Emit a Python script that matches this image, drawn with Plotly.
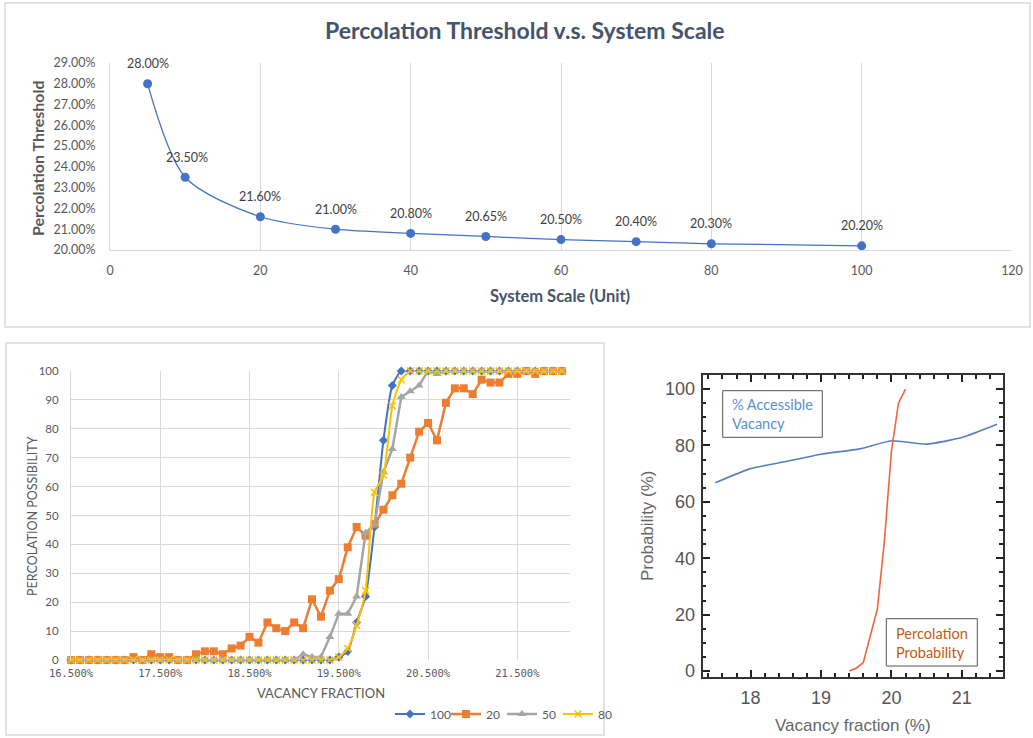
import plotly.graph_objects as go

W, H = 1033, 738


def fx(p):
    return p / W


def fy(p):
    return 1 - p / H


# ---- top: percolation threshold vs system scale ----
system_scale = [5, 10, 20, 30, 40, 50, 60, 70, 80, 100]
threshold_pct = [28.00, 23.50, 21.60, 21.00, 20.80, 20.65, 20.50, 20.40, 20.30, 20.20]

# ---- bottom-left: percolation possibility vs vacancy fraction ----
vacancy_pct = [
    16.5, 16.6, 16.7, 16.8, 16.9, 17.0, 17.1, 17.2, 17.3, 17.4,
    17.5, 17.6, 17.7, 17.8, 17.9, 18.0, 18.1, 18.2, 18.3, 18.4,
    18.5, 18.6, 18.7, 18.8, 18.9, 19.0, 19.1, 19.2, 19.3, 19.4,
    19.5, 19.6, 19.7, 19.8, 19.9, 20.0, 20.1, 20.2, 20.3, 20.4,
    20.5, 20.6, 20.7, 20.8, 20.9, 21.0, 21.1, 21.2, 21.3, 21.4,
    21.5, 21.6, 21.7, 21.8, 21.9, 22.0,
]
poss_100 = [
    0, 0, 0, 0, 0, 0, 0, 0, 0, 0,
    0, 0, 0, 0, 0, 0, 0, 0, 0, 0,
    0, 0, 0, 0, 0, 0, 0, 0, 0, 0,
    1, 3, 13, 22, 46, 76, 95, 100, 100, 100,
    100, 100, 100, 100, 100, 100, 100, 100, 100, 100,
    100, 100, 100, 100, 100, 100,
]
poss_20 = [
    0, 0, 0, 0, 0, 0, 0, 1, 0, 2,
    1, 1, 0, 0, 2, 3, 3, 2, 4, 5,
    8, 6, 13, 11, 10, 13, 11, 21, 15, 24,
    28, 39, 46, 43, 47, 52, 57, 61, 70, 79,
    82, 76, 89, 94, 94, 92, 97, 96, 96, 99,
    99, 100, 99, 100, 100, 100,
]
poss_50 = [
    0, 0, 0, 0, 0, 0, 0, 0, 0, 0,
    0, 0, 0, 0, 0, 0, 0, 0, 0, 0,
    0, 0, 0, 0, 0, 0, 2, 1, 1, 8,
    16, 16, 22, 44, 47, 65, 73, 91, 93, 95,
    100, 99, 100, 100, 100, 100, 100, 100, 100, 100,
    100, 100, 100, 100, 100, 100,
]
poss_80 = [
    0, 0, 0, 0, 0, 0, 0, 0, 0, 0,
    0, 0, 0, 0, 0, 0, 0, 0, 0, 0,
    0, 0, 0, 0, 0, 0, 0, 0, 0, 0,
    1, 4, 12, 24, 58, 64, 88, 97, 100, 100,
    100, 100, 100, 100, 100, 100, 100, 100, 100, 100,
    100, 100, 100, 100, 100, 100,
]

# ---- bottom-right: accessible vacancy and percolation probability ----
access_x = [17.5, 18.0, 18.5, 19.0, 19.55, 20.0, 20.5, 21.0, 21.5]
access_y = [66.8, 71.8, 74.3, 76.9, 78.8, 81.7, 80.5, 82.8, 87.5]
perc_x = [19.4, 19.5, 19.6, 19.7, 19.8, 19.9, 20.0, 20.1, 20.2]
perc_y = [0, 1, 3, 13, 22, 46, 78, 95, 100]

XL_FONT = "Lato, 'Open Sans', sans-serif"
HV_FONT = "'Liberation Sans', Arial, sans-serif"
GREY_TXT = "#595959"
GRID = "#D9D9D9"

fig = go.Figure()

# top chart
fig.add_trace(go.Scatter(
    x=system_scale, y=threshold_pct, mode="lines+markers",
    line=dict(color="#4472C4", width=1.25, shape="spline", smoothing=0.8),
    marker=dict(color="#4472C4", size=9),
    xaxis="x", yaxis="y", showlegend=False, cliponaxis=False,
))

# bottom-left chart
series = [
    ("100", poss_100, "#4472C4", "diamond", 7, "spline", 2.0),
    ("20", poss_20, "#ED7D31", "square", 8, "linear", 2.5),
    ("50", poss_50, "#A5A5A5", "triangle-up", 8, "linear", 2.5),
    ("80", poss_80, "#FFC000", "x-thin-open", 7, "spline", 2.0),
]
for name, vals, col, sym, msize, shape, lw in series:
    marker = dict(color=col, size=msize, symbol=sym)
    if sym == "x-thin-open":
        marker["line"] = dict(color=col, width=1.5)
    fig.add_trace(go.Scatter(
        x=vacancy_pct, y=vals, name=name, mode="lines+markers",
        line=dict(color=col, width=lw, shape=shape, smoothing=0.6),
        marker=marker, xaxis="x2", yaxis="y2", cliponaxis=False,
    ))

# bottom-right chart
fig.add_trace(go.Scatter(
    x=access_x, y=access_y, mode="lines",
    line=dict(color="#5A7FC0", width=1.6, shape="spline", smoothing=0.5),
    xaxis="x3", yaxis="y3", showlegend=False,
))
fig.add_trace(go.Scatter(
    x=perc_x, y=perc_y, mode="lines",
    line=dict(color="#F2643C", width=1.6),
    xaxis="x3", yaxis="y3", showlegend=False,
))

annotations = []

# value labels above each point of the top chart
for xs, ys in zip(system_scale, threshold_pct):
    annotations.append(dict(
        x=xs, y=ys, xref="x", yref="y", text=f"{ys:.2f}%",
        showarrow=False, yshift=20, xshift=2 if xs == 10 else 0,
        xanchor="center", yanchor="middle",
        font=dict(family=XL_FONT, size=12.5, color="#404040"),
    ))


def label(px, py, text, size, color, family=XL_FONT, angle=0, xanchor="center"):
    return dict(x=fx(px), y=fy(py), xref="paper", yref="paper", text=text,
                showarrow=False, textangle=angle, xanchor=xanchor,
                yanchor="middle", align="left",
                font=dict(family=family, size=size, color=color))


# titles, axis titles and boxed notes
annotations += [
    label(525, 30, "<b>Percolation Threshold v.s. System Scale</b>", 23, "#44546A"),
    label(38, 158, "<b>Percolation Threshold</b>", 16, GREY_TXT, angle=-90),
    label(560, 296, "<b>System Scale (Unit)</b>", 16.5, "#44546A"),
    label(32, 516, "PERCOLATION POSSIBILITY", 12.5, GREY_TXT, angle=-90),
    label(321, 693, "VACANCY FRACTION", 13, GREY_TXT),
    label(647, 526, "Probability (%)", 17, "#666666", family=HV_FONT, angle=-90),
    label(853, 725, "Vacancy fraction (%)", 17, "#666666", family=HV_FONT),
    label(730, 414, "% Accessible<br>Vacancy", 14.5, "#5B8FD0", xanchor="left"),
    label(894, 642.5, "Percolation<br>Probability", 14.5, "#C55A11", xanchor="left"),
]

shapes = [
    dict(type="rect", xref="paper", yref="paper",
         x0=fx(5), x1=fx(1030), y0=fy(327), y1=fy(3),
         line=dict(color="#D9D9D9", width=1.5)),
    dict(type="rect", xref="paper", yref="paper",
         x0=fx(6), x1=fx(604), y0=fy(735), y1=fy(343),
         line=dict(color="#D9D9D9", width=1.5)),
    dict(type="rect", xref="paper", yref="paper",
         x0=fx(722.7), x1=fx(822.3), y0=fy(437.3), y1=fy(390.7),
         line=dict(color="#555555", width=1)),
    dict(type="rect", xref="paper", yref="paper",
         x0=fx(886.3), x1=fx(977.3), y0=fy(666), y1=fy(618.7),
         line=dict(color="#555555", width=1)),
]

fig.update_layout(
    width=W, height=H,
    margin=dict(l=0, r=0, t=0, b=0),
    paper_bgcolor="white", plot_bgcolor="white",
    font=dict(family=XL_FONT, color=GREY_TXT),
    annotations=annotations, shapes=shapes,
    xaxis=dict(
        domain=[fx(110), fx(1012)], anchor="y", range=[0, 120], dtick=20,
        showgrid=True, gridcolor=GRID, gridwidth=1, zeroline=False,
        showline=True, linecolor=GRID, linewidth=1, ticks="",
        automargin=False,
        ticklabelstandoff=9, tickfont=dict(family=XL_FONT, size=12.5, color=GREY_TXT),
    ),
    yaxis=dict(
        domain=[fy(250), fy(63)], anchor="x", range=[20, 29], dtick=1,
        tickformat=".2f", ticksuffix="%", showgrid=False, zeroline=False,
        showline=True, linecolor=GRID, linewidth=1, ticks="",
        automargin=False,
        ticklabelstandoff=11, tickfont=dict(family=XL_FONT, size=12.5, color=GREY_TXT),
    ),
    xaxis2=dict(
        domain=[fx(71), fx(570)], anchor="y2", range=[16.5, 22.09],
        tick0=16.5, dtick=1, tickformat=".3f", ticksuffix="%",
        showgrid=True, gridcolor=GRID, gridwidth=1, zeroline=False,
        showline=False, ticks="", ticklabelstandoff=5, automargin=False,
        tickfont=dict(family="'DejaVu Sans Mono', monospace", size=10.5, color=GREY_TXT),
    ),
    yaxis2=dict(
        domain=[fy(660), fy(371)], anchor="x2", range=[0, 100], dtick=10,
        showgrid=True, gridcolor=GRID, gridwidth=1, zeroline=False,
        showline=True, linecolor=GRID, linewidth=1,
        ticks="", ticklabelstandoff=9, automargin=False,
        tickfont=dict(family=XL_FONT, size=11.5, color=GREY_TXT),
    ),
    xaxis3=dict(
        domain=[fx(702.7), fx(1002.7)], anchor="y3", range=[17.32, 21.58],
        tickvals=[18, 19, 20, 21], ticks="inside", ticklen=7, tickwidth=2,
        tickcolor="#222222", mirror="allticks", showline=True,
        linecolor="#333333", linewidth=2, showgrid=False, zeroline=False,
        minor=dict(dtick=0.2, ticks="inside", ticklen=3.5, tickwidth=1.5,
                   tickcolor="#222222", showgrid=False),
        ticklabelstandoff=4, automargin=False,
        tickfont=dict(family=HV_FONT, size=18, color="#555555"),
    ),
    yaxis3=dict(
        domain=[fy(676.7), fy(375)], anchor="x3", range=[-2, 105],
        tick0=0, dtick=20, ticks="inside", ticklen=7, tickwidth=2,
        tickcolor="#222222", mirror="allticks", showline=True,
        linecolor="#333333", linewidth=2, showgrid=False, zeroline=False,
        minor=dict(dtick=5, ticks="inside", ticklen=3.5, tickwidth=1.5,
                   tickcolor="#222222", showgrid=False),
        ticklabelstandoff=2, automargin=False,
        tickfont=dict(family=HV_FONT, size=18, color="#555555"),
    ),
    legend=dict(
        orientation="h", x=fx(390), y=fy(714), xanchor="left", yanchor="middle",
        font=dict(family=XL_FONT, size=12, color=GREY_TXT),
        itemwidth=30, entrywidth=11, entrywidthmode="pixels",
        bgcolor="rgba(0,0,0,0)", tracegroupgap=0,
    ),
)

fig.write_html("out.html")
